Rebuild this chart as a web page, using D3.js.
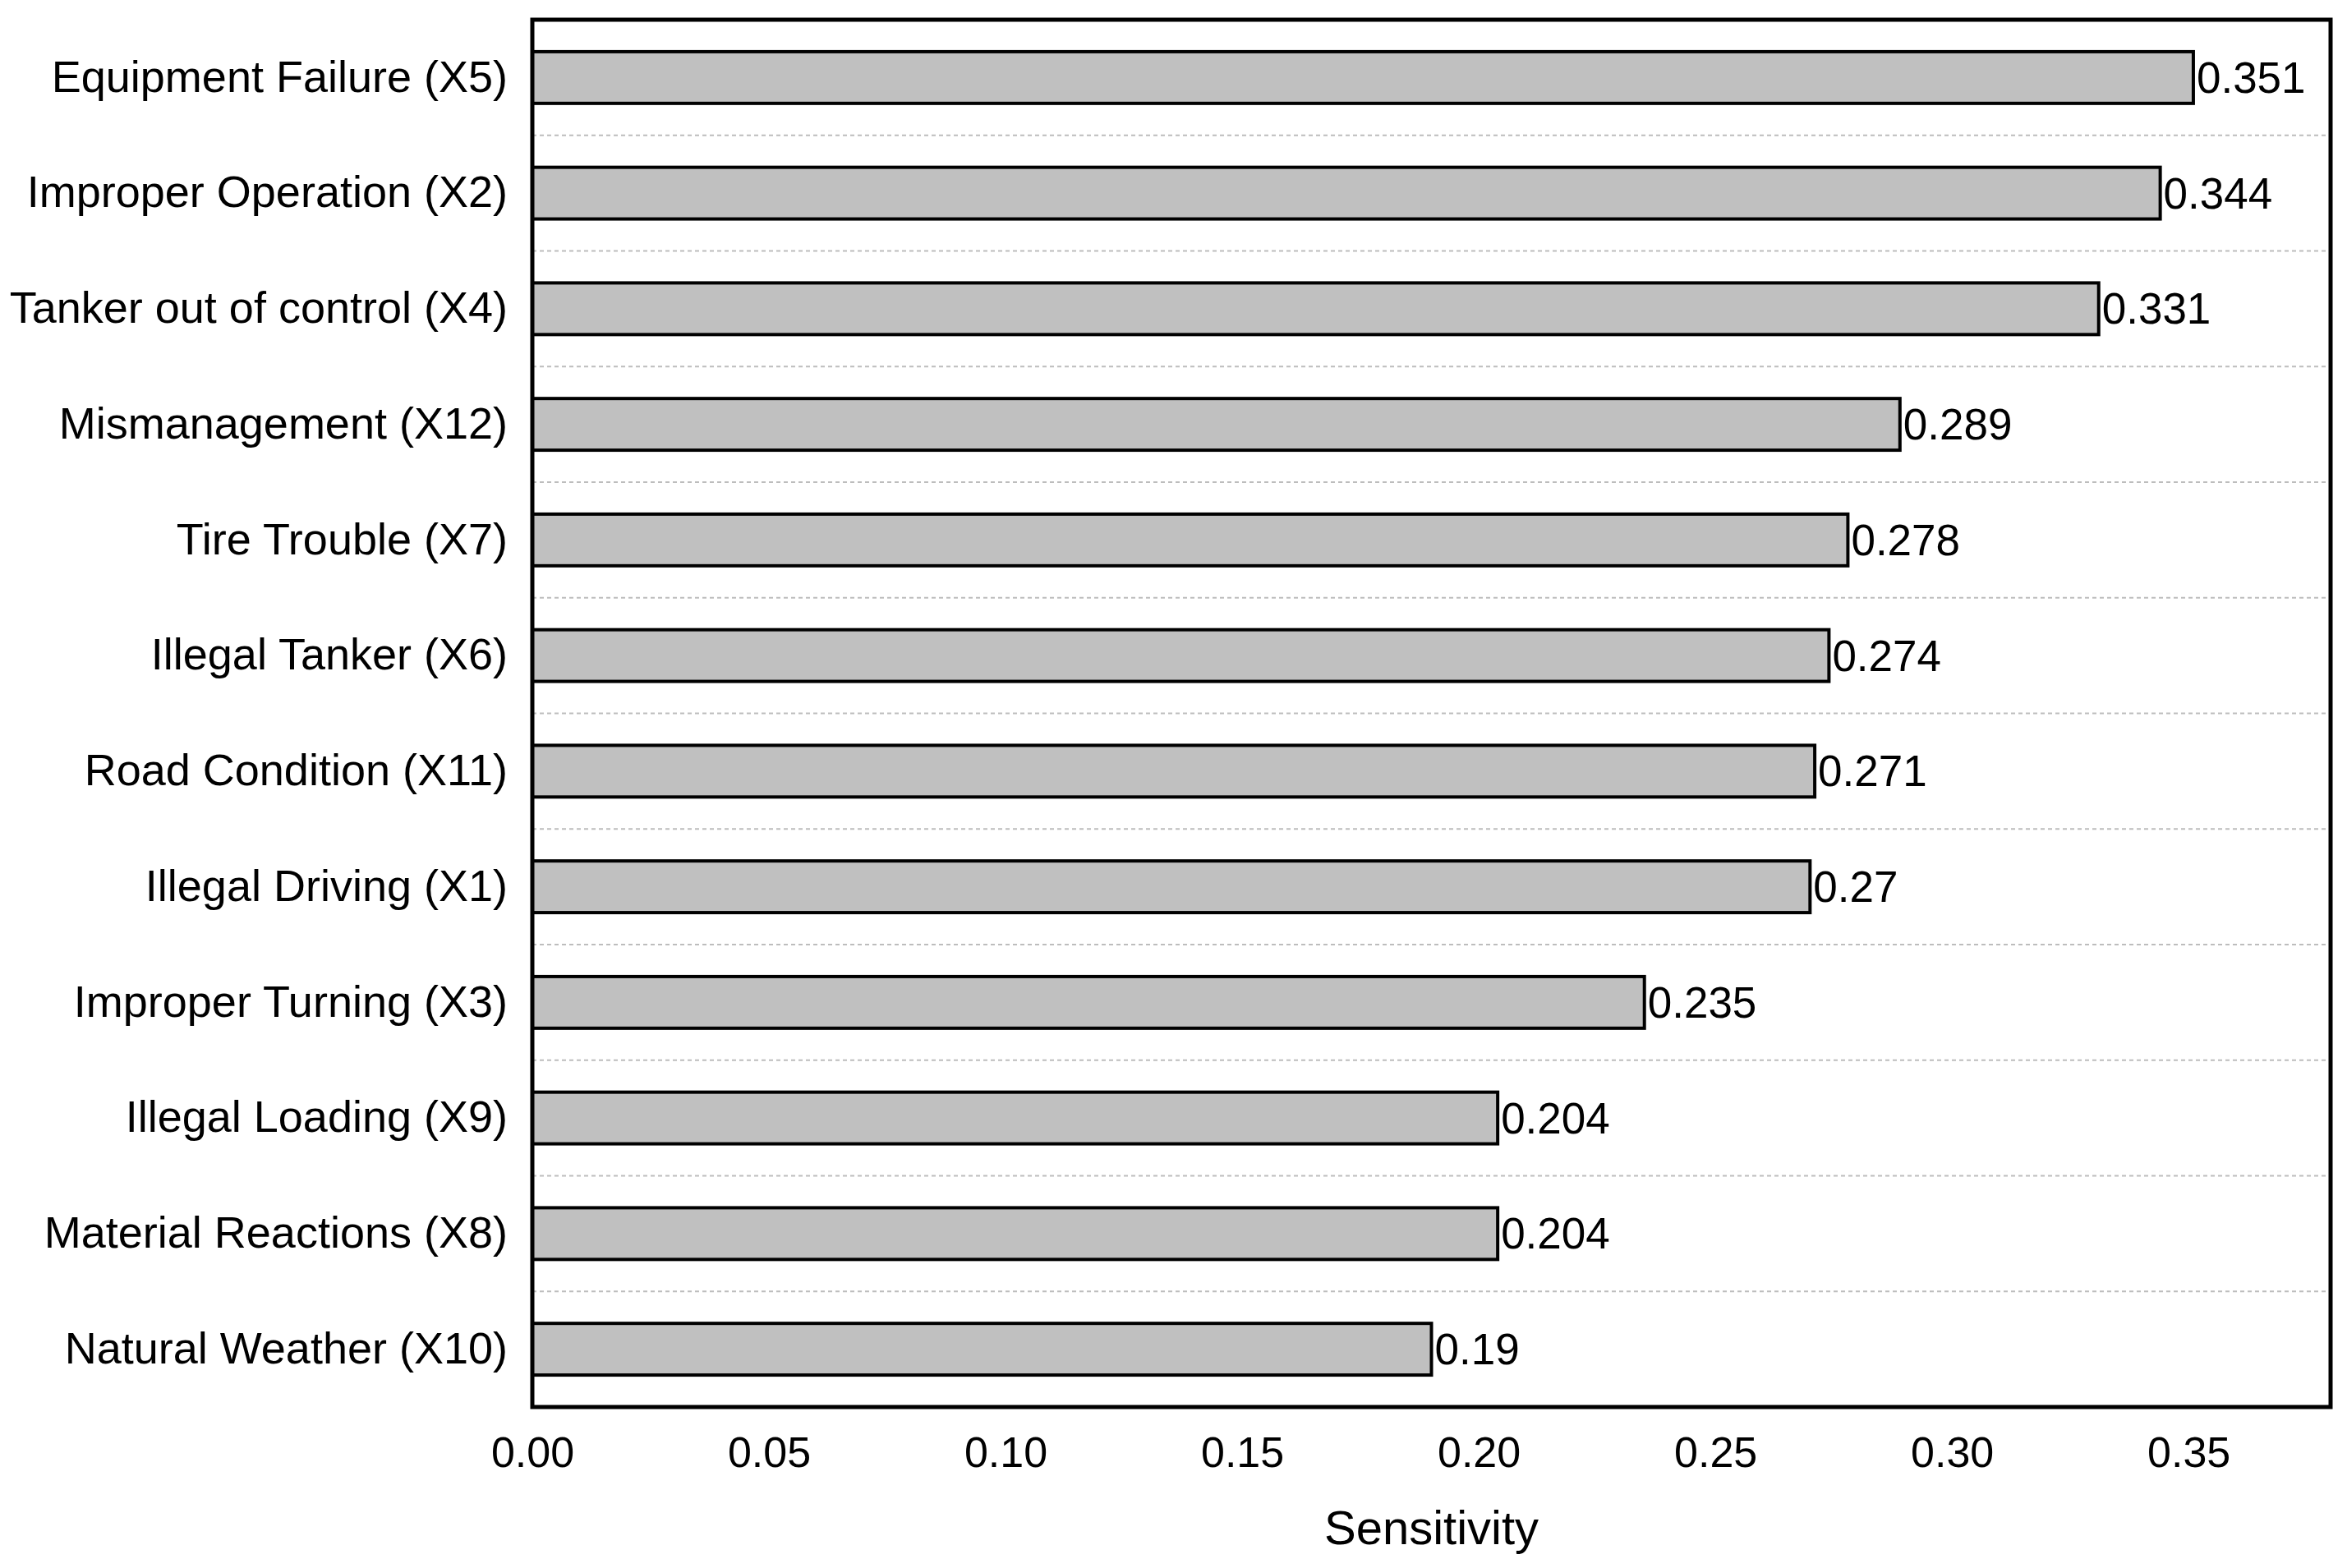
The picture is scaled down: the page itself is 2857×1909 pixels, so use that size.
<!DOCTYPE html>
<html>
<head>
<meta charset="utf-8">
<script src="https://cdn.jsdelivr.net/npm/d3@7"></script>
<style>
  body { margin: 0; background: #fff; }
  text { font-family: "Liberation Sans", Arial, sans-serif; fill: #000; }
</style>
</head>
<body>
<script>
// data, top to bottom
const categories = [
  "Equipment Failure (X5)",
  "Improper Operation (X2)",
  "Tanker out of control (X4)",
  "Mismanagement (X12)",
  "Tire Trouble (X7)",
  "Illegal Tanker (X6)",
  "Road Condition (X11)",
  "Illegal Driving (X1)",
  "Improper Turning (X3)",
  "Illegal Loading (X9)",
  "Material Reactions (X8)",
  "Natural Weather (X10)"
];
const values = [0.351, 0.344, 0.331, 0.289, 0.278, 0.274, 0.271, 0.27, 0.235, 0.204, 0.204, 0.19];
const xTicks = [0, 0.05, 0.10, 0.15, 0.20, 0.25, 0.30, 0.35];
const xTitle = "Sensitivity";

const width = 2857;
const height = 1909;
const margin = {top: 24, right: 20, bottom: 196, left: 648};
const fontSize = 52;

const svg = d3.select("body").append("svg")
  .attr("width", width)
  .attr("height", height);

const x = d3.scaleLinear()
  .domain([0, 0.38])
  .range([margin.left, width - margin.right]);

const y = d3.scaleBand()
  .domain(categories)
  .range([margin.top, height - margin.bottom])
  .paddingInner(0.553)
  .paddingOuter(0.2765);

/* dashed separators between bars */
const gap = (y.step() - y.bandwidth()) / 2;
svg.append("g")
  .selectAll("line")
  .data(categories.slice(1))
  .join("line")
    .attr("x1", x.range()[0])
    .attr("x2", x.range()[1])
    .attr("y1", d => y(d) - gap)
    .attr("y2", d => y(d) - gap)
    .attr("stroke", "#bdbdbd")
    .attr("stroke-width", 2)
    .attr("stroke-dasharray", "5,4");

/* bars */
svg.append("g")
  .selectAll("rect")
  .data(values)
  .join("rect")
    .attr("x", x(0))
    .attr("y", (d, i) => y(categories[i]))
    .attr("width", d => x(d) - x(0))
    .attr("height", y.bandwidth())
    .attr("fill", "#c0c0c0")
    .attr("stroke", "#000")
    .attr("stroke-width", 4);

/* value labels */
svg.append("g")
  .selectAll("text")
  .data(values)
  .join("text")
    .attr("x", d => x(d) + 4)
    .attr("y", (d, i) => y(categories[i]) + y.bandwidth() / 2)
    .attr("dy", "0.35em")
    .attr("font-size", 53)
    .text(d => String(d));

/* axes */
const axisY = d3.axisLeft(y).tickSize(0).tickPadding(30);
const gy = svg.append("g")
  .attr("transform", "translate(" + margin.left + ",0)")
  .call(axisY);
gy.select(".domain").remove();
gy.selectAll("text")
  .attr("font-size", 54)
  .attr("font-family", "Liberation Sans, Arial, sans-serif")
  .attr("fill", "#000");

const axisX = d3.axisBottom(x)
  .tickValues(xTicks)
  .tickFormat(d3.format(".2f"))
  .tickSize(0)
  .tickPadding(36);
const gx = svg.append("g")
  .attr("transform", "translate(0," + (height - margin.bottom) + ")")
  .call(axisX);
gx.select(".domain").remove();
gx.selectAll("text")
  .attr("font-size", fontSize)
  .attr("font-family", "Liberation Sans, Arial, sans-serif")
  .attr("fill", "#000");

svg.append("text")
  .attr("x", (x.range()[0] + x.range()[1]) / 2)
  .attr("y", 1880)
  .attr("text-anchor", "middle")
  .attr("font-size", 58)
  .text(xTitle);

/* frame */
svg.append("rect")
  .attr("x", margin.left)
  .attr("y", margin.top)
  .attr("width", x.range()[1] - margin.left)
  .attr("height", height - margin.bottom - margin.top)
  .attr("fill", "none")
  .attr("stroke", "#000")
  .attr("stroke-width", 5);
</script>
</body>
</html>
